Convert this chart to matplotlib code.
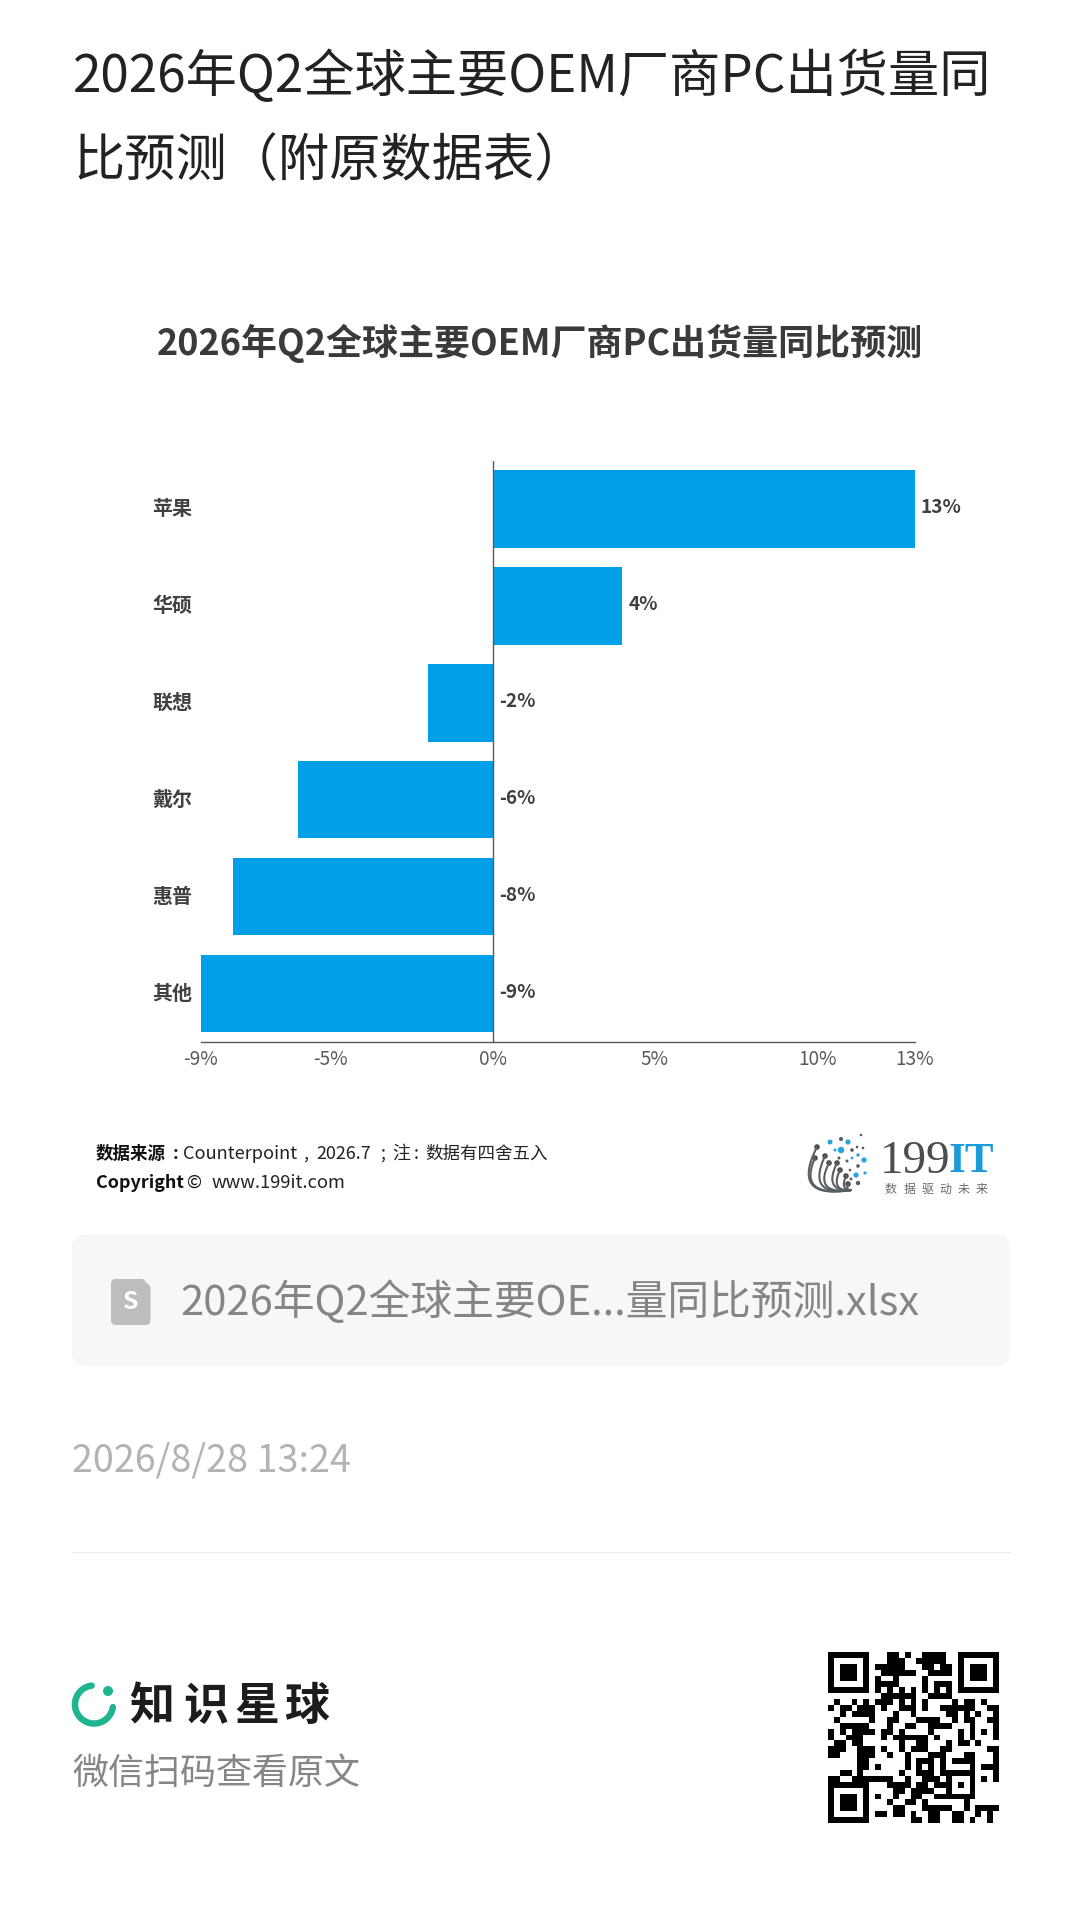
import numpy as np
import matplotlib
matplotlib.use("Agg")
import matplotlib.pyplot as plt
from matplotlib.patches import FancyBboxPatch, Polygon, Circle
from matplotlib.transforms import ScaledTranslation

plt.rcParams['font.family'] = ['Noto Sans CJK SC', 'DejaVu Sans']

# ---------- data ----------
categories = ['苹果', '华硕', '联想', '戴尔', '惠普', '其他']
values = [13, 4, -2, -6, -8, -9]
value_labels = ['13%', '4%', '-2%', '-6%', '-8%', '-9%']
x_ticks = [-9, -5, 0, 5, 10, 13]
x_tick_labels = ['-9%', '-5%', '0%', '5%', '10%', '13%']
page_title = ['2026年Q2全球主要OEM厂商PC出货量同', '比预测（附原数据表）']
chart_title = '2026年Q2全球主要OEM厂商PC出货量同比预测'
file_name = '2026年Q2全球主要OE...量同比预测.xlsx'
date_text = '2026/8/28 13:24'
qr_rows = [
    "11111110001101001111001111111",
    "10000010001110011111001000001",
    "10111010111110001101101011101",
    "10111010011111100111101011101",
    "10111010100100001000001011101",
    "10000010111100001011101000001",
    "11111110101010101010101111111",
    "00000000011111100111100000000",
    "01001010111010101000010110100",
    "10110111010011101001111110011",
    "00101111000100100000110101001",
    "01000001001100011110010110011",
    "00111110001001100111100010001",
    "10101111011010000100001010101",
    "10011100010111111010001010001",
    "01101100000010011000101101000",
    "11100111010010111001100000011",
    "11000111001001000111000110001",
    "00000110000001011101011110001",
    "00000110100001010101000010111",
    "00110100000010011101111110001",
    "11001111111001001110100010101",
    "11111110001111011011101010000",
    "10000010000110111100100010000",
    "10111010100100110011111110000",
    "10111010001001101000000100000",
    "10111010000110001111100101111",
    "10000010110110100110011001010",
    "11111110000000110110011010010",
]

W, H = 1080, 1922
BLUE = '#00A0E9'
def pt(px):
    return px * 0.72

fig = plt.figure(figsize=(W / 100, H / 100), dpi=100, facecolor='white')

def px_axes(x0, y0, x1, y1, **kw):
    return fig.add_axes([x0 / W, 1 - y1 / H, (x1 - x0) / W, (y1 - y0) / H], **kw)

# ---------- page overlay in pixel coordinates ----------
ov = fig.add_axes([0, 0, 1, 1])
ov.set_xlim(0, W)
ov.set_ylim(H, 0)
ov.axis('off')

def T(x, y, s, size, color='#222222', weight='normal', ha='left', **kw):
    return ov.text(x, y, s, fontsize=pt(size), color=color, fontweight=weight,
                   ha=ha, va='center', **kw)

T(73, 77.5, page_title[0], 51.2, '#222222')
T(73, 161, page_title[1], 51.2, '#222222')
T(540, 343, chart_title, 36, '#3a3a3a', 'bold', ha='center')

# source
T(96, 1154, '数据来源', 17.5, '#111111', 'bold')
T(173, 1154, ':', 17.5, '#111111', 'bold')
T(183, 1154, 'Counterpoint', 18.2, '#222222')
T(303, 1154, ',', 18, '#222222')
T(316, 1154, '2026.7', 18, '#222222')
T(380, 1154, ';', 18, '#222222')
T(392, 1154, '注', 18, '#222222')
T(414, 1154, ':', 18, '#222222')
T(425, 1154, '数据有四舍五入', 17.5, '#222222')
T(96, 1183, 'Copyright', 18, '#111111', 'bold')
T(195, 1183, '©', 18, '#111111', ha='center')
T(212, 1183, 'www.199it.com', 18.3, '#222222')

# 199IT logo
fan_base = (851, 1190)
fan_tips = [(817, 1147), (815, 1158), (825, 1156), (829, 1163), (837, 1163), (840, 1170), (846, 1176), (848, 1184)]
fan_ctrl = [(790, 1200), (797, 1198), (806, 1197), (813, 1195), (823, 1192), (830, 1192), (840, 1190), (846, 1192)]
for (tx, ty), (cx, cy) in zip(fan_tips, fan_ctrl):
    t = np.linspace(0, 1, 30)
    xs = (1 - t) ** 2 * fan_base[0] + 2 * t * (1 - t) * cx + t ** 2 * tx
    ys = (1 - t) ** 2 * fan_base[1] + 2 * t * (1 - t) * cy + t ** 2 * ty
    ov.plot(xs, ys, color='#5a5f63', lw=1.5, solid_capstyle='round')
    ov.add_patch(Circle((tx, ty), 2.8, color='#4a4e52', lw=0))
for (dx, dy, r, c) in [(830, 1142, 2.5, '#29a3dc'), (841, 1139, 2, '#555a5e'), (848, 1142, 2.6, '#29a3dc'),
                       (861, 1135, 1.3, '#555a5e'), (841, 1150, 3.2, '#29a3dc'), (835, 1150, 1.5, '#29a3dc'),
                       (852, 1150, 1.8, '#555a5e'), (857, 1147, 1.3, '#555a5e'), (863, 1148, 1.3, '#555a5e'),
                       (839, 1158, 1.5, '#555a5e'), (858, 1155, 1.7, '#29a3dc'), (864, 1160, 2.6, '#29a3dc'),
                       (847, 1161, 1.5, '#555a5e'), (852, 1158, 1.4, '#29a3dc'), (858, 1166, 1.8, '#555a5e'),
                       (850, 1170, 1.3, '#555a5e'), (856, 1175, 2.6, '#29a3dc'), (865, 1173, 1.6, '#29a3dc'),
                       (851, 1179, 1.4, '#555a5e'), (858, 1183, 2.2, '#555a5e')]:
    ov.add_patch(Circle((dx, dy), r, color=c, lw=0))
ov.text(880, 1162, '199', family='Liberation Serif', fontsize=pt(47), color='#4a4e52', ha='left', va='center')
ov.text(949, 1162, 'IT', family='Liberation Serif', fontsize=pt(43), fontweight='bold', color='#1a9ad6', ha='left', va='center')
for i, ch in enumerate('数据驱动未来'):
    T(891 + i * 18.2, 1189, ch, 12, '#6a6a6a', ha='center')

# file card
ov.add_patch(FancyBboxPatch((72, 1234.5), 938, 131.5, boxstyle='round,pad=0,rounding_size=14',
                            fc='#f7f7f7', ec='none'))
ov.add_patch(FancyBboxPatch((111, 1279), 39.5, 46, boxstyle='round,pad=0,rounding_size=5',
                            fc='#bdbdbd', ec='none'))
ov.add_patch(Polygon([(142, 1278), (151.5, 1278), (151.5, 1288)], fc='#f7f7f7', ec='none'))
T(130.5, 1302, 'S', 25, 'white', 'bold', ha='center')
T(180, 1302, file_name, 41.8, '#858585')

# date + divider
T(72, 1461.5, date_text, 37.7, '#b3b3b3')
ov.plot([72, 1010], [1552, 1552], color='#eeeeee', lw=1)

# knowledge planet logo
TEAL = '#1fb68f'
ang = np.radians(np.linspace(97, 352, 120))
ov.plot(94 + 19 * np.cos(ang), 1704.5 - 19 * np.sin(ang), color=TEAL, lw=pt(6.5),
        solid_capstyle='round')
ov.add_patch(Circle((108, 1691), 5, color=TEAL, lw=0))
for cx, ch in zip([152, 206, 257, 307], '知识星球'):
    T(cx, 1707, ch, 45, '#1c1c1c', 'bold', ha='center')
T(72, 1774, '微信扫码查看原文', 36, '#868686')

# QR code
qr = np.array([[int(c) for c in r] for r in qr_rows])
qa = px_axes(828, 1652, 999, 1823)
qa.imshow(qr, cmap='gray_r', interpolation='nearest', aspect='auto', vmin=0, vmax=1)
qa.axis('off')

# ---------- chart ----------
ax = px_axes(200.5, 460.5, 914.5, 1042)
y = np.arange(len(categories))
ax.barh(y, values, height=0.8, color=BLUE, zorder=2)
ax.set_xlim(x_ticks[0], x_ticks[-1])
ax.set_ylim(len(categories) - 0.5, -0.5)
ax.patch.set_alpha(0)
for s in ['top', 'left', 'right']:
    ax.spines[s].set_visible(False)
ax.spines['bottom'].set_color('#595959')
ax.spines['bottom'].set_linewidth(1)
ax.axvline(0, color='#595959', lw=1, zorder=3)
ax.set_xticks(x_ticks)
ax.set_xticklabels(x_tick_labels, fontsize=pt(19), color='#595959')
ax.set_yticks(y)
ax.set_yticklabels(categories, fontsize=pt(20), color='#404040', fontweight='bold')
ax.tick_params(axis='x', length=0, pad=pt(7))
ax.tick_params(axis='y', length=0, pad=pt(8.5))
shift = ScaledTranslation(0, 2.5 / 100, fig.dpi_scale_trans)
for lab in ax.get_yticklabels():
    lab.set_transform(lab.get_transform() + shift)
for i, (v, lab) in enumerate(zip(values, value_labels)):
    ax.annotate(lab, xy=(max(v, 0), i), xytext=(pt(6.5), pt(1)), textcoords='offset points',
                ha='left', va='center', fontsize=pt(19), color='#404040',
                fontweight='bold', annotation_clip=False)

fig.savefig('out.png', dpi=100, facecolor='white')
